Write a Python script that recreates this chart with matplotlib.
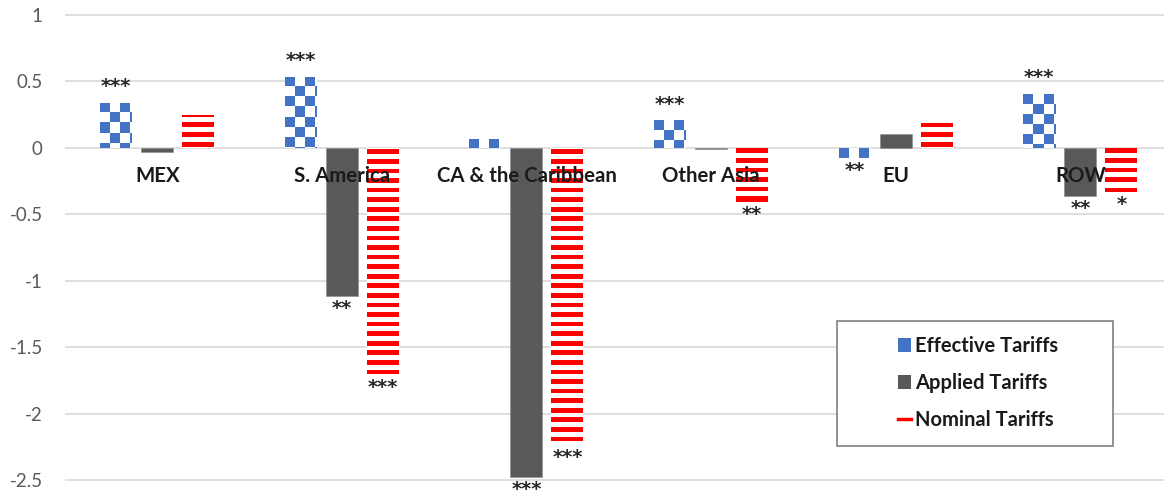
import numpy as np
import matplotlib
matplotlib.use("Agg")
import matplotlib.pyplot as plt
from matplotlib.patches import Rectangle, Patch
from matplotlib.lines import Line2D
from matplotlib.colors import to_rgba

categories = ["MEX", "S. America", "CA & the Caribbean", "Other Asia", "EU", "ROW"]
effective = [0.34, 0.535, 0.065, 0.206, -0.078, 0.406]
applied = [-0.03, -1.115, -2.48, -0.01, 0.103, -0.366]
nominal = [0.25, -1.708, -2.235, -0.41, 0.186, -0.334]
effective_sig = ["***", "***", "", "***", "**", "***"]
applied_sig = ["", "**", "***", "", "", "**"]
nominal_sig = ["", "***", "***", "**", "", "*"]
series_names = ["Effective Tariffs", "Applied Tariffs", "Nominal Tariffs"]
yticks = [1, 0.5, 0, -0.5, -1, -1.5, -2, -2.5]
ytick_labels = ["1", "0.5", "0", "-0.5", "-1", "-1.5", "-2", "-2.5"]

BLUE = "#4472C4"
GRAY = "#595959"
RED = "#FF0000"
FONT = "Lato"

W_PX, H_PX = 1164, 493
fig = plt.figure(figsize=(W_PX / 100, H_PX / 100), dpi=100)
ppu = 132.86
left_px, top_px = 65, 2
cat_px = 184.6
ax = fig.add_axes([left_px / W_PX, 0, 6 * cat_px / W_PX, (H_PX - top_px) / H_PX])
ax.set_autoscale_on(False)
ax.set_xlim(-0.5, 5.5)
ax.set_ylim(-2.5 - 13 / ppu, 1 + 13 / ppu)
for s in ax.spines.values():
    s.set_visible(False)
ax.set_xticks([])
ax.set_yticks(yticks)
ax.set_yticklabels(ytick_labels, fontfamily=FONT, fontsize=13.5, color="#595959")
ax.tick_params(axis="y", length=0, pad=16)
ax.yaxis.grid(True, color="#D9D9D9", lw=1.2)
ax.set_axisbelow(True)

x = np.arange(len(categories))
step = 41 / cat_px
width = 32 / cat_px

bars_e = ax.bar(x - step, effective, width, color="white", lw=0, zorder=2)
bars_a = ax.bar(x, applied, width, color=GRAY, edgecolor="#8a8a8a", lw=0.4, zorder=2)
bars_n = ax.bar(x + step, nominal, width, color="white", lw=0, zorder=2)

T = ax.transData
Tinv = T.inverted()
white = np.array(to_rgba("white"))


def add_texture(patch, xc, anchor, ylo, yhi, sign, pattern, color):
    (px0, pa), = T.transform([(xc - width / 2, anchor)])
    (px1, _), = T.transform([(xc + width / 2, anchor)])
    (_, plo), = T.transform([(xc, ylo)])
    (_, phi), = T.transform([(xc, yhi)])
    Hh = int(np.ceil(abs(phi - plo))) + 2
    Ww = int(np.ceil(px1 - px0)) + 2
    i = np.arange(Hh)[:, None]
    j = np.arange(Ww)[None, :]
    mask = pattern(i, j)
    col = np.array(to_rgba(color))
    img = np.where(mask[..., None], col, white)
    if sign > 0:
        pb, pt = pa, pa + Hh
        origin = "lower"
    else:
        pb, pt = pa - Hh, pa
        origin = "upper"
    (l, b), = Tinv.transform([(px0, pb)])
    (r, t), = Tinv.transform([(px0 + Ww, pt)])
    im = ax.imshow(img, extent=[l, r, b, t], origin=origin,
                   interpolation="nearest", aspect="auto", zorder=3)
    im.set_clip_path(patch)


checker = lambda i, j: ((i // 10) + (j // 10)) % 2 == 0
stripes = lambda i, j: (((i - 1.0) % 9.57) < 4.7) & (j >= 0)

for k, p in enumerate(bars_e):
    v = effective[k]
    xc = x[k] - step
    if v >= 0:
        add_texture(p, xc, v, 0, v, -1, checker, BLUE)
    else:
        add_texture(p, xc, v, v, 0, +1, checker, BLUE)

for k, p in enumerate(bars_n):
    v = nominal[k]
    xc = x[k] + step
    if v >= 0:
        add_texture(p, xc, 0, 0, v, +1, stripes, RED)
    else:
        add_texture(p, xc, 0, v, 0, -1, stripes, RED)

# category labels
for k, c in enumerate(categories):
    ax.annotate(c, (x[k], 0), xytext=(0, -20), textcoords="offset points",
                ha="center", va="center", fontfamily=FONT, fontweight="bold",
                fontsize=14.7, color="#1a1a1a", zorder=5)

# significance stars
STAR_FONT = "DejaVu Sans"
for vals, sigs, off in ((effective, effective_sig, -step),
                        (applied, applied_sig, 0),
                        (nominal, nominal_sig, step)):
    for k, (v, s) in enumerate(zip(vals, sigs)):
        if not s:
            continue
        if v >= 0:
            ax.annotate(s, (x[k] + off, v), xytext=(0, 5), textcoords="offset points",
                        ha="center", va="bottom", fontfamily=STAR_FONT, fontweight="bold",
                        fontsize=14, color="#262626", zorder=5)
        else:
            ax.annotate(s, (x[k] + off, v), xytext=(0, -2), textcoords="offset points",
                        ha="center", va="top", fontfamily=STAR_FONT, fontweight="bold",
                        fontsize=14, color="#262626", zorder=5)

# legend
box = Rectangle((837 / W_PX, (H_PX - 446) / H_PX), 276 / W_PX, 125 / H_PX,
                transform=fig.transFigure, facecolor="white", edgecolor="#808080",
                lw=1.2, zorder=10)
fig.add_artist(box)
handles = [Patch(facecolor=BLUE, edgecolor="none"),
           Patch(facecolor=GRAY, edgecolor="none"),
           Line2D([0], [0], color=RED, lw=2.5)]
leg = fig.legend(handles, series_names, loc="center left",
                 bbox_to_anchor=(898 / W_PX, (H_PX - 383) / H_PX),
                 bbox_transform=fig.transFigure, frameon=False, borderpad=0,
                 borderaxespad=0, handlelength=0.65, handleheight=0.65,
                 handletextpad=0.2, labelspacing=0.85,
                 prop={"family": FONT, "weight": "bold", "size": 14.5})
leg.set_zorder(11)
for t in leg.get_texts():
    t.set_color("#1a1a1a")

fig.savefig("out.png", dpi=100)
